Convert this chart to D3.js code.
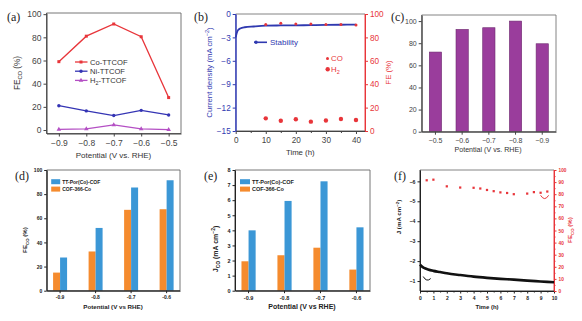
<!DOCTYPE html>
<html>
<head>
<meta charset="utf-8">
<script src="https://cdn.jsdelivr.net/npm/d3@7"></script>
<style>
  body { margin: 0; background: #fff; }
  svg { display: block; }
</style>
</head>
<body>
<div id="chart"></div>
<script>
// ---- data ----
// (a) FE_CO vs potential
var potA = [-0.9, -0.8, -0.7, -0.6, -0.5];
var coTTCOF = [59, 81, 91.5, 80.5, 28];
var niTTCOF = [21, 16.5, 12.5, 17, 13];
var h2TTCOF = [0.5, 1, 4.5, 1, 0.3];

// (b) stability
var timeB = [0, 0.3, 0.7, 1.5, 3, 6, 10, 15, 20, 25, 30, 35, 40];
var stabilityJ = [-3.0, -2.5, -2.1, -1.85, -1.7, -1.6, -1.5, -1.47, -1.45, -1.43, -1.4, -1.38, -1.35];
var feTimeB = [10, 15, 20, 25, 30, 35, 40];
var feCOB = [91, 92, 91.5, 91.5, 91, 91, 90.5];
var feH2B = [10.8, 8.8, 10, 8, 9, 10.2, 9.4];

// (c) FE bars
var potC = ["-0.5", "-0.6", "-0.7", "-0.8", "-0.9"];
var feC = [72, 92.5, 94, 100, 79.5];

// (d), (e) grouped bars
var potDE = ["-0.9", "-0.8", "-0.7", "-0.6"];
var seriesDE = ["COF-366-Co", "TT-Por(Co)-COF"];
var feTT = [27.5, 52, 85.5, 91.5];
var fe366 = [15, 32.5, 67, 67.5];
var jTT = [4.0, 5.95, 7.25, 4.2];
var j366 = [1.95, 2.35, 2.85, 1.4];

// (f) long-term test
var timeF = [0, 0.1, 0.3, 0.6, 1, 1.5, 2, 3, 4, 5, 6, 7, 8, 9, 10];
var jF = [-1.82, -1.75, -1.66, -1.58, -1.51, -1.45, -1.39, -1.30, -1.22, -1.16, -1.11, -1.07, -1.02, -0.98, -0.94];
var feTimeF = [0.5, 1, 2, 3, 4, 4.5, 5, 5.5, 6, 6.5, 7, 8, 8.5, 9, 9.5];
var feCOF = [91.5, 92, 86.5, 85.5, 85.3, 84.7, 83.5, 82.5, 81.5, 81, 80, 80.5, 81.7, 81.2, 82.2];

var sans = "'Liberation Sans', Arial, sans-serif";
var serif = "'Liberation Serif', 'Times New Roman', serif";
var blueBar = "#3b97d6", orangeBar = "#f58b2e";
var red = "#e8353a";

var svg = d3.select("#chart").append("svg")
    .attr("width", 582)
    .attr("height", 321)
    .style("background", "#fff");

// text with sub/superscript parts: [[str, "sub"|"sup"|null], ...]
function rich(t, parts, size) {
    var shift = 0;
    parts.forEach(function (p) {
        var s = p[1] === "sub" ? 0.3 * size : p[1] === "sup" ? -0.4 * size : 0;
        var ts = t.append("tspan").text(p[0]).attr("dy", s - shift);
        if (p[1]) ts.attr("font-size", size * 0.7);
        shift = s;
    });
    return t;
}

function label(x, y, parts, size, opts) {
    opts = opts || {};
    var t = svg.append("text")
        .attr("font-family", opts.family || sans)
        .attr("font-size", size)
        .attr("font-weight", opts.bold ? "bold" : null)
        .attr("fill", opts.color || "#333")
        .attr("text-anchor", opts.anchor || "middle");
    if (opts.rotate) t.attr("transform", "translate(" + x + "," + y + ") rotate(" + opts.rotate + ")");
    else t.attr("x", x).attr("y", y);
    return rich(t, parts, size);
}

function panelLabel(x, y, s) {
    svg.append("text").attr("x", x).attr("y", y)
        .attr("font-family", serif).attr("font-size", 12).attr("fill", "#222").text(s);
}

function axis(g, gen, color, size, bold) {
    g.call(gen);
    g.attr("font-family", sans).attr("font-size", size).attr("font-weight", bold ? "bold" : null);
    g.selectAll(".domain").attr("stroke", color);
    g.selectAll(".tick line").attr("stroke", color);
    g.selectAll(".tick text").attr("fill", color);
    return g;
}

// frame with per side colours
function box(x, y, c) {
    var x0 = x.range()[0], x1 = x.range()[1];
    var y0 = y.range()[1], y1 = y.range()[0];
    var sides = [
        [x0, y0, x1, y0, c.top], [x1, y0, x1, y1, c.right],
        [x0, y1, x1, y1, c.bottom], [x0, y0, x0, y1, c.left]
    ];
    sides.forEach(function (s) {
        svg.append("line").attr("x1", s[0]).attr("y1", s[1]).attr("x2", s[2]).attr("y2", s[3])
            .attr("stroke", s[4]).attr("stroke-width", 0.9);
    });
}

// ================= (a) =================
var ax = d3.scaleLinear().domain([-0.945, -0.455]).range([46.5, 181]);
var ay = d3.scaleLinear().domain([-3, 101]).range([133.5, 13]);
box(ax, ay, { top: "#666", right: "#666", bottom: "#555", left: "#555" });
axis(svg.append("g").attr("transform", "translate(0," + ay.range()[0] + ")"),
    d3.axisBottom(ax).tickValues(potA).tickFormat(d3.format(".1f")).tickSize(3).tickPadding(3).tickSizeOuter(0), "#444", 8.5);
axis(svg.append("g").attr("transform", "translate(" + ax.range()[0] + ",0)"),
    d3.axisLeft(ay).tickValues([0, 20, 40, 60, 80, 100]).tickSize(3).tickPadding(2).tickSizeOuter(0), "#444", 8.5);

var seriesA = [
    { name: [["Co-TTCOF", null]], values: coTTCOF, color: red, shape: d3.symbolSquare },
    { name: [["Ni-TTCOF", null]], values: niTTCOF, color: "#3434b4", shape: d3.symbolCircle },
    { name: [["H", null], ["2", "sub"], ["-TTCOF", null]], values: h2TTCOF, color: "#b44fc4", shape: d3.symbolTriangle }
];
var lineA = d3.line().x(function (d, i) { return ax(potA[i]); }).y(function (d) { return ay(d); });
seriesA.forEach(function (s, k) {
    svg.append("path").attr("d", lineA(s.values)).attr("fill", "none")
        .attr("stroke", s.color).attr("stroke-width", 1.3);
    svg.selectAll(null).data(s.values).enter().append("path")
        .attr("d", d3.symbol().type(s.shape).size(9))
        .attr("transform", function (d, i) { return "translate(" + ax(potA[i]) + "," + ay(d) + ")"; })
        .attr("fill", s.color);
    var ly = 62 + k * 9.2;
    svg.append("line").attr("x1", 75).attr("x2", 87.5).attr("y1", ly).attr("y2", ly)
        .attr("stroke", s.color).attr("stroke-width", 1.3);
    svg.append("path").attr("d", d3.symbol().type(s.shape).size(9)).attr("transform", "translate(81," + ly + ")").attr("fill", s.color);
    label(90, ly + 2.7, s.name, 7.6, { anchor: "start", color: "#333" });
});
label(20, 73, [["FE", null], ["CO", "sub"], [" (%)", null]], 8.2, { rotate: -90 });
label(113.5, 158, [["Potential (V vs. RHE)", null]], 8);
panelLabel(7, 21, "(a)");

// ================= (b) =================
var bx = d3.scaleLinear().domain([0, 43]).range([235.7, 365]);
var byL = d3.scaleLinear().domain([-15, 0]).range([131, 14]);
var byR = d3.scaleLinear().domain([0, 100]).range([131, 14]);
var blueB = "#2f39b0";
box(bx, byL, { top: "#777", right: red, bottom: "#555", left: blueB });
axis(svg.append("g").attr("transform", "translate(0," + byL.range()[0] + ")"),
    d3.axisBottom(bx).tickValues([0, 10, 20, 30, 40]).tickSize(3).tickPadding(3).tickSizeOuter(0), "#444", 8.2);
axis(svg.append("g").attr("transform", "translate(0," + byL.range()[0] + ")"),
    d3.axisBottom(bx).tickValues([5, 15, 25, 35]).tickSize(2).tickFormat("").tickSizeOuter(0), "#444", 8.2);
axis(svg.append("g").attr("transform", "translate(" + bx.range()[0] + ",0)"),
    d3.axisLeft(byL).tickValues([0, -3, -6, -9, -12, -15]).tickSize(3).tickPadding(2).tickSizeOuter(0), blueB, 8.2);
axis(svg.append("g").attr("transform", "translate(" + bx.range()[1] + ",0)"),
    d3.axisRight(byR).tickValues([0, 20, 40, 60, 80, 100]).tickSize(3).tickPadding(2).tickSizeOuter(0), red, 8.2);

svg.append("path")
    .attr("d", d3.line().curve(d3.curveMonotoneX)
        .x(function (d, i) { return bx(timeB[i]); }).y(function (d) { return byL(d); })(stabilityJ))
    .attr("fill", "none").attr("stroke", blueB).attr("stroke-width", 1.8);
svg.selectAll(null).data(feCOB).enter().append("circle")
    .attr("cx", function (d, i) { return bx(feTimeB[i]); }).attr("cy", function (d) { return byR(d); })
    .attr("r", 1.5).attr("fill", red);
svg.selectAll(null).data(feH2B).enter().append("circle")
    .attr("cx", function (d, i) { return bx(feTimeB[i]); }).attr("cy", function (d) { return byR(d); })
    .attr("r", 2.2).attr("fill", red);

// legend (b)
svg.append("line").attr("x1", 254).attr("x2", 267).attr("y1", 42.3).attr("y2", 42.3).attr("stroke", blueB).attr("stroke-width", 1.6);
svg.append("circle").attr("cx", 256).attr("cy", 42.3).attr("r", 1.7).attr("fill", blueB);
label(270, 45.2, [["Stability", null]], 8, { anchor: "start", color: blueB });
svg.append("circle").attr("cx", 327.5).attr("cy", 58.5).attr("r", 1.5).attr("fill", red);
label(331, 61.3, [["CO", null]], 7.8, { anchor: "start", color: red });
svg.append("circle").attr("cx", 327.7).attr("cy", 69.3).attr("r", 2.2).attr("fill", red);
label(331, 72, [["H", null], ["2", "sub"]], 7.8, { anchor: "start", color: red });

label(212, 72.5, [["Current density (mA cm", null], ["\u22122", "sup"], [")", null]], 7.8, { rotate: -90, color: blueB });
label(391, 72.5, [["FE (%)", null]], 7.8, { rotate: -90, color: red });
label(300.3, 155, [["Time (h)", null]], 7.8);
panelLabel(194, 21, "(b)");

// ================= (c) =================
var cx = d3.scaleBand().domain(potC).range([421.7, 556]).paddingInner(0.54).paddingOuter(0.285);
var cy = d3.scaleLinear().domain([0, 105.5]).range([131.7, 15]);
svg.selectAll(null).data(feC).enter().append("rect")
    .attr("x", function (d, i) { return cx(potC[i]); })
    .attr("width", cx.bandwidth())
    .attr("y", function (d) { return cy(d); })
    .attr("height", function (d) { return cy(0) - cy(d); })
    .attr("fill", "#9a3d9c").attr("stroke", "#6e2a70").attr("stroke-width", 0.6);
box(cx, cy, { top: "#777", right: "#777", bottom: "#555", left: "#555" });
axis(svg.append("g").attr("transform", "translate(0," + cy.range()[0] + ")"),
    d3.axisBottom(cx).tickFormat(function (d) { return d.replace("-", "\u2212"); }).tickSize(3).tickPadding(3).tickSizeOuter(0), "#444", 7);
axis(svg.append("g").attr("transform", "translate(" + cx.range()[0] + ",0)"),
    d3.axisLeft(cy).tickValues([0, 20, 40, 60, 80, 100]).tickSize(3).tickPadding(2).tickSizeOuter(0), "#444", 7);
label(488, 152, [["Potential (V vs. RHE)", null]], 7.1);
panelLabel(391, 21, "(c)");

// ================= (d) & (e) =================
function grouped(x0, x1, yMax, yTicks, tt, c366, opts) {
    var x = d3.scaleBand().domain(potDE).range([x0, x1]).paddingInner(0.606).paddingOuter(0.18);
    var xs = d3.scaleBand().domain(seriesDE).range([0, x.bandwidth()]);
    var y = d3.scaleLinear().domain([0, yMax]).range([290.7, 170]);
    var vals = { "COF-366-Co": c366, "TT-Por(Co)-COF": tt };
    var cols = { "COF-366-Co": orangeBar, "TT-Por(Co)-COF": blueBar };
    seriesDE.forEach(function (s) {
        svg.selectAll(null).data(vals[s]).enter().append("rect")
            .attr("x", function (d, i) { return x(potDE[i]) + xs(s); })
            .attr("width", xs.bandwidth())
            .attr("y", function (d) { return y(d); })
            .attr("height", function (d) { return y(0) - y(d); })
            .attr("fill", cols[s]);
    });
    box(x, y, { top: "#666", right: "#666", bottom: "#333", left: "#333" });
    axis(svg.append("g").attr("transform", "translate(0," + y.range()[0] + ")"),
        d3.axisBottom(x).tickFormat(function (d) { return d; }).tickSize(2.5).tickPadding(2.5).tickSizeOuter(0), "#222", opts.tick, true);
    axis(svg.append("g").attr("transform", "translate(" + x0 + ",0)"),
        d3.axisLeft(y).tickValues(yTicks).tickSize(2.5).tickPadding(2).tickSizeOuter(0), "#222", opts.tick, true);
    // legend, TT first then COF-366
    ["TT-Por(Co)-COF", "COF-366-Co"].forEach(function (s, k) {
        var ly = 181.7 + k * 7.4;
        svg.append("rect").attr("x", x0 + opts.legX).attr("y", ly - 2.5).attr("width", opts.legW).attr("height", 5)
            .attr("fill", cols[s]);
        label(x0 + opts.legX + opts.legW + 2, ly + 1.9, [[s, null]], opts.leg, { anchor: "start", bold: true, color: "#222" });
    });
    label(opts.titleX, 309, [["Potential (V vs RHE)", null]], opts.xt, { bold: true, color: "#222" });
}

grouped(46.7, 180, 100, [0, 20, 40, 60, 80, 100], feTT, fe366,
    { tick: 5, legX: 4.5, legW: 9, leg: 5, titleX: 113, xt: 6.2 });
label(27, 240, [["FE", null], ["CO", "sub"], [" (%)", null]], 6.2, { rotate: -90, bold: true, color: "#222" });
panelLabel(15, 180, "(d)");

grouped(235, 370, 8, [0, 1, 2, 3, 4, 5, 6, 7, 8], jTT, j366,
    { tick: 5.5, legX: 5, legW: 10, leg: 5.5, titleX: 302, xt: 7 });
label(218, 249, [["J", null], ["CO", "sub"], [" (mA cm", null], ["\u22122", "sup"], [")", null]], 7, { rotate: -90, bold: true, color: "#222" });
panelLabel(204, 180, "(e)");

// ================= (f) =================
var fx = d3.scaleLinear().domain([0, 10]).range([420, 554]);
var fyL = d3.scaleLinear().domain([-0.5, -6.57]).range([291, 170]);
var fyR = d3.scaleLinear().domain([0, 100]).range([291, 170]);
box(fx, fyR, { top: "#777", right: red, bottom: "#222", left: "#222" });
axis(svg.append("g").attr("transform", "translate(0," + fyR.range()[0] + ")"),
    d3.axisBottom(fx).ticks(10).tickSize(2.5).tickPadding(2.5).tickSizeOuter(0), "#222", 5, true);
axis(svg.append("g").attr("transform", "translate(0," + fyR.range()[0] + ")"),
    d3.axisBottom(fx).tickValues(d3.range(0.5, 10, 1)).tickSize(1.5).tickFormat("").tickSizeOuter(0), "#222", 5);
axis(svg.append("g").attr("transform", "translate(" + fx.range()[0] + ",0)"),
    d3.axisLeft(fyL).tickValues([-1, -2, -3, -4, -5, -6]).tickFormat(d3.format("d")).tickSize(2.5).tickPadding(2).tickSizeOuter(0), "#222", 5.2, true);
axis(svg.append("g").attr("transform", "translate(" + fx.range()[1] + ",0)"),
    d3.axisRight(fyR).ticks(10).tickSize(2.5).tickPadding(2).tickSizeOuter(0), red, 4.8, true);
axis(svg.append("g").attr("transform", "translate(" + fx.range()[1] + ",0)"),
    d3.axisRight(fyR).tickValues(d3.range(5, 100, 10)).tickSize(1.5).tickFormat("").tickSizeOuter(0), red, 4.8);

svg.append("path")
    .attr("d", d3.line().curve(d3.curveMonotoneX)
        .x(function (d, i) { return fx(timeF[i]); }).y(function (d) { return fyL(d); })(jF))
    .attr("fill", "none").attr("stroke", "#111").attr("stroke-width", 2.6);
svg.selectAll(null).data(feCOF).enter().append("path")
    .attr("d", d3.symbol().type(d3.symbolSquare).size(5))
    .attr("transform", function (d, i) { return "translate(" + fx(feTimeF[i]) + "," + fyR(d) + ")"; })
    .attr("fill", red);

// small curved arrows pointing to each axis
var arcR = { t: 9.3, v: 77 }, arcL = { t: 0.5, v: -1.1 };
var ar = [fx(arcR.t), fyR(arcR.v)], al = [fx(arcL.t), fyL(arcL.v)];
svg.append("path")
    .attr("d", "M" + (ar[0] - 4) + "," + (ar[1] - 2.5) + " Q" + ar[0] + "," + (ar[1] + 4) + " " + (ar[0] + 4) + "," + (ar[1] - 2.5))
    .attr("fill", "none").attr("stroke", red).attr("stroke-width", 1);
svg.append("path")
    .attr("d", "M" + (al[0] - 3.5) + "," + (al[1] - 2.5) + " Q" + al[0] + "," + (al[1] + 3.5) + " " + (al[0] + 4) + "," + (al[1] - 0.5))
    .attr("fill", "none").attr("stroke", "#111").attr("stroke-width", 1);

label(401, 217, [["J (mA cm", null], ["\u22122", "sup"], [")", null]], 6.2, { rotate: -90, bold: true, color: "#222" });
label(572, 230, [["FE", null], ["CO", "sub"], [" (%)", null]], 6.2, { rotate: -90, bold: true, color: red });
label(487, 309, [["Time (h)", null]], 6, { bold: true, color: "#222" });
panelLabel(394, 180, "(f)");
</script>
</body>
</html>
